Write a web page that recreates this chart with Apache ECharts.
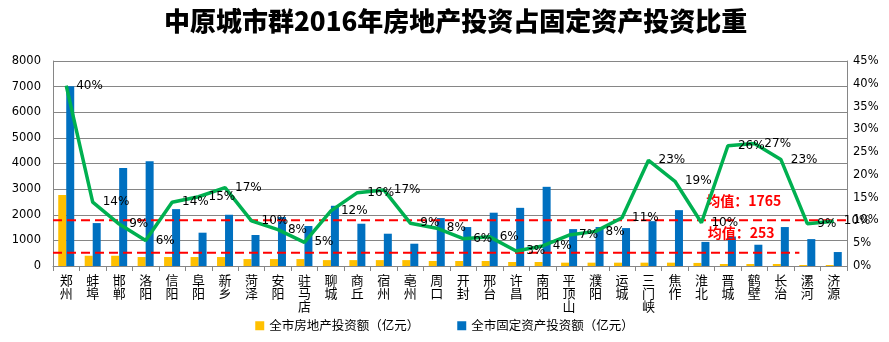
<!DOCTYPE html>
<html>
<head>
<meta charset="utf-8">
<script src="https://cdn.jsdelivr.net/npm/echarts@6/dist/echarts.min.js"></script>
<style>
html,body{margin:0;padding:0;background:#fff;}
#c{width:889px;height:342px;}
</style>
</head>
<body>
<div id="c"></div>
<script>
var titleText = '中原城市群2016年房地产投资占固定资产投资比重';
var cities = ['郑州','蚌埠','邯郸','洛阳','信阳','阜阳','新乡','菏泽','安阳','驻马店','聊城','商丘','宿州','亳州','周口','开封','邢台','许昌','南阳','平顶山','濮阳','运城','三门峡','焦作','淮北','晋城','鹤壁','长治','漯河','济源'];
var realEstate = [2770,400,400,350,350,350,350,270,270,270,230,230,230,230,195,195,195,156,156,130,130,130,130,130,120,78,78,78,40,40];
var fixedAsset = [7010,1675,3820,4090,2220,1300,2000,1210,1910,1560,2350,1650,1260,870,1870,1520,2080,2270,3090,1440,1520,1480,1750,2180,940,1150,830,1520,1050,545];
var ratio = [39.6,14.0,9.2,5.6,14.0,15.2,17.2,9.9,8.0,5.2,12.1,16.1,16.7,9.4,8.3,6.0,6.4,3.3,4.4,6.8,7.6,10.6,23.2,18.6,9.5,26.4,26.9,23.4,9.3,9.8];
var leftTicks = {min:0, max:8000, interval:1000};
var rightTicks = {min:0, max:45, interval:5};
// dashed reference lines: level on left axis, span in category units (0 = left edge, 30 = right edge)
var meanLines = [
  {pos:1790, from:0, to:30, text:'均值：1765', labelAt:26.1},
  {pos:520, from:0, to:28.2, text:'均值：253', labelAt:26.0}
];
var legendNames = ['全市房地产投资额（亿元）','全市固定资产投资额（亿元）'];

var chart = echarts.init(document.getElementById('c'), null, {renderer:'canvas'});
var axisTextStyle = {color:'#000', fontSize:11.5, fontFamily:'DejaVu Sans'};

var meanSeries = meanLines.map(function(m){
  return {
    type:'line', xAxisIndex:1, yAxisIndex:0, symbol:'none', silent:true,
    data:[[m.from, m.pos],[m.to, m.pos]],
    lineStyle:{color:'#FF0000', type:[9,5], width:2},
    z:4,
    markPoint:{
      silent:true, symbol:'rect', symbolSize:1, itemStyle:{color:'rgba(0,0,0,0)'},
      label:{show:true, color:'#FF0000', fontWeight:'bold', fontSize:14, fontFamily:'Noto Sans CJK SC',
        position:'top', distance:12, formatter:function(p){return p.name;}},
      data:[{name:m.text, coord:[m.labelAt, m.pos]}]
    }
  };
});

chart.setOption({
  animation:false,
  backgroundColor:'#fff',
  title:{
    text:titleText, left:159, top:3,
    textStyle:{fontSize:26, fontWeight:900, color:'#000', fontFamily:'Noto Sans CJK SC'}
  },
  legend:{
    data:legendNames, bottom:5, left:'center',
    itemWidth:9, itemHeight:9, itemGap:38, icon:'rect',
    textStyle:{fontSize:12.5, color:'#000', fontFamily:'Noto Sans CJK SC'}
  },
  grid:{left:53, right:42, top:61, bottom:76, containLabel:false},
  xAxis:[{
    type:'category', data:cities,
    axisLine:{lineStyle:{color:'#868686', width:1}},
    axisTick:{show:true, length:5, lineStyle:{color:'#868686'}},
    axisLabel:{
      interval:0, margin:8, color:'#000', fontSize:13, lineHeight:13,
      fontFamily:'Noto Sans CJK SC',
      formatter:function(v){return v.split('').join('\n');}
    }
  },{
    type:'value', min:0, max:30, show:false
  }],
  yAxis:[
    {type:'value', min:leftTicks.min, max:leftTicks.max, interval:leftTicks.interval,
     axisLine:{show:true, lineStyle:{color:'#868686'}},
     axisTick:{show:false},
     splitLine:{lineStyle:{color:'#868686', width:1}},
     axisLabel:Object.assign({margin:12, formatter:function(v){return String(v);}}, axisTextStyle)},
    {type:'value', min:rightTicks.min, max:rightTicks.max, interval:rightTicks.interval,
     position:'right',
     axisLine:{show:true, lineStyle:{color:'#868686'}},
     axisTick:{show:false},
     splitLine:{show:false},
     axisLabel:Object.assign({margin:6, formatter:'{value}%'}, axisTextStyle)}
  ],
  series:[
    {name:legendNames[0], type:'bar', data:realEstate, barWidth:8, barGap:'0%',
     itemStyle:{color:'#FFC000'}, yAxisIndex:0},
    {name:legendNames[1], type:'bar', data:fixedAsset, barWidth:8,
     itemStyle:{color:'#0070C0'}, yAxisIndex:0},
    {name:'比重', type:'line', data:ratio, yAxisIndex:1,
     symbol:'circle', symbolSize:0, showSymbol:true, showAllSymbol:true,
     lineStyle:{color:'#00B050', width:3.5}, itemStyle:{color:'#00B050'},
     label:{show:true, position:'right', distance:10, color:'#000', fontSize:12, fontFamily:'DejaVu Sans',
       formatter:function(p){return Math.round(p.value)+'%';}},
     labelLayout:{hideOverlap:false},
     z:5}
  ].concat(meanSeries)
});
</script>
</body>
</html>
